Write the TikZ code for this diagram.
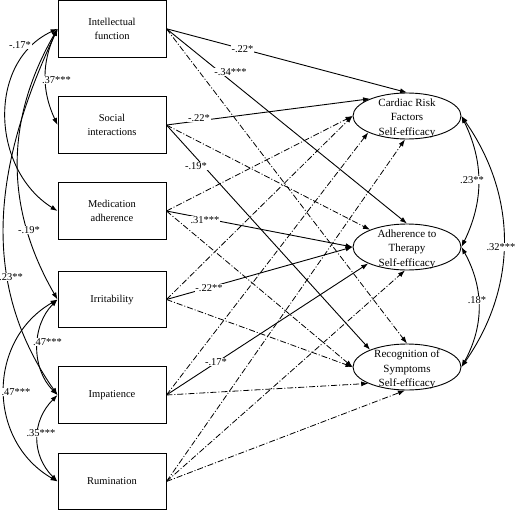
\documentclass[tikz,border=0pt]{standalone}
\usepackage{fontspec}
\setmainfont{Liberation Serif}
\usetikzlibrary{arrows.meta,shapes.geometric}
\begin{document}
\begin{tikzpicture}[x=1pt,y=1pt,
  box/.style={draw, line width=0.9pt, minimum width=108pt, minimum height=56.5pt, align=center, font=\fontsize{10.5}{14.5}\selectfont, inner sep=0pt},
  ell/.style={draw, ellipse, line width=0.9pt, minimum width=108pt, minimum height=46pt, inner sep=0pt},
  etext/.style={align=center, font=\fontsize{11}{14.5}\selectfont, inner sep=0pt},
  lab/.style={fill=white, inner sep=0.8pt, font=\fontsize{10.5}{12}\selectfont},
  tip/.tip={Latex[length=7pt,width=5pt]},
  sig/.style={line width=0.9pt, -tip},
  ns/.style={line width=0.8pt, dash pattern=on 6pt off 2pt on 1pt off 2pt, -tip},
  cov/.style={line width=0.9pt, tip-tip},
]
\useasboundingbox (0,0) rectangle (516,-511);

% predictors
\node[box] (intel) at (112,-28.75) {Intellectual\\function};
\node[box] (soc) at (112,-125) {Social\\interactions};
\node[box] (med) at (112,-211) {Medication\\adherence};
\node[box] (irr) at (112,-299.5) {Irritability};
\node[box] (imp) at (112,-395) {Impatience};
\node[box] (rum) at (112,-481.5) {Rumination};

% outcomes
\node[ell] (card) at (407,-116) {};
\node[ell] (adh) at (407,-247) {};
\node[ell] (rec) at (407,-367) {};
\node[etext] (cardt) at (407,-118) {Cardiac Risk\\Factors\\Self-efficacy};
\node[etext] (adht) at (407,-249) {Adherence to\\Therapy\\Self-efficacy};
\node[etext] (rect) at (407,-369.5) {Recognition of\\Symptoms\\Self-efficacy};

% paths
\draw[sig] (intel.east) -- (card.north);
\draw[sig] (intel.east) -- (adh.north);
\draw[ns]  (intel.east) -- (rec.north);
\draw[sig] (soc.east) -- (card.155);
\draw[ns]  (soc.east) -- (adh.155);
\draw[sig] (soc.east) -- (rec.155);
\draw[ns]  (med.east) -- (card.west);
\draw[sig] (med.east) -- (adh.west);
\draw[ns]  (med.east) -- (rec.west);
\draw[ns]  (irr.east) -- (card.west);
\draw[sig] (irr.east) -- (adh.west);
\draw[ns]  (irr.east) -- (rec.west);
\draw[ns]  (imp.east) -- (card.203);
\draw[sig] (imp.east) -- (adh.203);
\draw[ns]  (imp.east) -- (rec.203);
\draw[ns]  (rum.east) -- (card.265);
\draw[ns]  (rum.east) -- (adh.265);
\draw[ns]  (rum.east) -- (rec.265);

% covariances among predictors
\draw[cov] (intel.west) to[bend right=25] (soc.west);
\draw[cov] (intel.west) to[out=205,in=148,looseness=1.1] (med.west);
\draw[cov] (intel.west) to[out=240,in=120] (irr.west);
\draw[cov] (intel.west) to[out=245,in=125] (imp.west);
\draw[cov] (irr.west) to[out=225,in=135] (imp.west);
\draw[cov] (irr.west) to[out=210,in=150,looseness=1.15] (rum.west);
\draw[cov] (imp.west) to[out=225,in=135,looseness=1.1] (rum.west);

% covariances among outcomes
\draw[cov] (card.east) to[bend left=26] (adh.east);
\draw[cov] (card.east) to[bend left=35] (rec.east);
\draw[cov] (adh.east) to[bend left=29] (rec.east);

% labels
\node[lab] (l1) at (242.5,-49) {-.22*};
\node[lab] (l2) at (230.5,-72) {-.34***};
\node[lab] (l3) at (199,-118) {-.22*};
\node[lab] (l4) at (196,-166) {-.19*};
\node[lab] (l5) at (205,-220) {.31***};
\node[lab] (l6) at (209,-288) {-.22**};
\node[lab] (l7) at (216,-362) {-.17*};
\node[lab] (l8) at (20,-45) {-.17*};
\node[lab] (l9) at (56.5,-80) {.37***};
\node[lab] (l10) at (29,-230) {-.19*};
\node[lab] (l11) at (11,-277) {.23**};
\node[lab] (l12) at (47.5,-342) {.47***};
\node[lab] (l13) at (16,-392) {.47***};
\node[lab] (l14) at (41,-433) {.35***};
\node[lab] (l15) at (472,-180) {.23**};
\node[lab] (l16) at (501,-247) {.32***};
\node[lab] (l17) at (477,-300) {.18*};
\end{tikzpicture}
\end{document}
